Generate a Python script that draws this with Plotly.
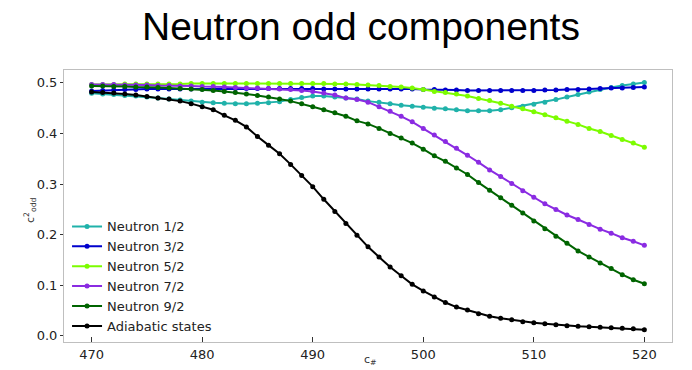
import plotly.graph_objects as go

c_hash = list(range(470, 521))

neutron_1_2 = [0.4795, 0.478, 0.477, 0.475, 0.474, 0.472, 0.470, 0.468, 0.466, 0.464,
               0.462, 0.461, 0.460, 0.459, 0.459, 0.460, 0.461, 0.463, 0.467, 0.471,
               0.474, 0.474, 0.472, 0.470, 0.468, 0.464, 0.462, 0.459, 0.456, 0.454,
               0.452, 0.450, 0.449, 0.447, 0.445, 0.445, 0.445, 0.447, 0.451, 0.454,
               0.458, 0.462, 0.467, 0.472, 0.477, 0.482, 0.487, 0.491, 0.495, 0.498,
               0.501]

neutron_3_2 = [0.484, 0.485, 0.486, 0.487, 0.487, 0.488, 0.488, 0.488, 0.488, 0.488,
               0.488, 0.489, 0.489, 0.489, 0.489, 0.489, 0.489, 0.489, 0.489, 0.489,
               0.489, 0.488, 0.488, 0.488, 0.488, 0.488, 0.488, 0.488, 0.488, 0.488,
               0.487, 0.487, 0.486, 0.486, 0.485, 0.485, 0.485, 0.485, 0.485, 0.485,
               0.485, 0.486, 0.486, 0.487, 0.487, 0.488, 0.489, 0.490, 0.490, 0.491,
               0.492]

neutron_5_2 = [0.497, 0.497, 0.497, 0.498, 0.498, 0.498, 0.498, 0.498, 0.498, 0.499,
               0.499, 0.499, 0.499, 0.499, 0.499, 0.499, 0.499, 0.499, 0.499, 0.499,
               0.499, 0.499, 0.498, 0.498, 0.497, 0.496, 0.495, 0.493, 0.492, 0.490,
               0.487, 0.483, 0.481, 0.478, 0.474, 0.469, 0.465, 0.460, 0.454, 0.449,
               0.443, 0.437, 0.431, 0.424, 0.418, 0.410, 0.404, 0.396, 0.388, 0.381,
               0.373]

neutron_7_2 = [0.497, 0.497, 0.497, 0.496, 0.496, 0.496, 0.495, 0.495, 0.494, 0.494,
               0.493, 0.493, 0.492, 0.491, 0.490, 0.490, 0.489, 0.488, 0.487, 0.485,
               0.483, 0.480, 0.476, 0.470, 0.467, 0.462, 0.453, 0.444, 0.434, 0.423,
               0.410, 0.397, 0.384, 0.371, 0.357, 0.343, 0.328, 0.315, 0.301, 0.287,
               0.274, 0.261, 0.250, 0.239, 0.230, 0.220, 0.211, 0.203, 0.194, 0.187,
               0.179]

neutron_9_2 = [0.494, 0.494, 0.493, 0.493, 0.492, 0.492, 0.491, 0.490, 0.489, 0.488,
               0.487, 0.485, 0.483, 0.481, 0.478, 0.475, 0.472, 0.468, 0.464, 0.459,
               0.453, 0.447, 0.441, 0.434, 0.425, 0.419, 0.410, 0.400, 0.391, 0.381,
               0.369, 0.356, 0.345, 0.332, 0.319, 0.303, 0.288, 0.273, 0.258, 0.243,
               0.227, 0.212, 0.197, 0.183, 0.168, 0.156, 0.144, 0.133, 0.121, 0.111,
               0.103]

adiabatic = [0.482, 0.481, 0.480, 0.478, 0.476, 0.473, 0.470, 0.468, 0.464, 0.459,
             0.453, 0.447, 0.436, 0.426, 0.413, 0.394, 0.377, 0.360, 0.339, 0.317,
             0.295, 0.270, 0.246, 0.222, 0.199, 0.176, 0.156, 0.136, 0.119, 0.102,
             0.089, 0.077, 0.066, 0.057, 0.051, 0.044, 0.039, 0.035, 0.032, 0.028,
             0.026, 0.024, 0.022, 0.020, 0.019, 0.018, 0.017, 0.016, 0.015, 0.014,
             0.012]

series = [
    ("Neutron 1/2", neutron_1_2, "#20b2aa"),
    ("Neutron 3/2", neutron_3_2, "#0000cd"),
    ("Neutron 5/2", neutron_5_2, "#7cfc00"),
    ("Neutron 7/2", neutron_7_2, "#8a2be2"),
    ("Neutron 9/2", neutron_9_2, "#006400"),
    ("Adiabatic states", adiabatic, "#000000"),
]

fig = go.Figure()
for name, vals, color in series:
    fig.add_trace(go.Scatter(
        x=c_hash, y=vals, name=name, mode="lines+markers",
        line=dict(color=color, width=2),
        marker=dict(color=color, size=5),
    ))

tick_font = dict(family="DejaVu Sans", size=13, color="#222222")

fig.update_layout(
    width=692, height=370,
    margin=dict(l=64, r=20, t=70, b=28),
    paper_bgcolor="white", plot_bgcolor="white",
    showlegend=True,
    legend=dict(
        x=0.005, y=0.48, xanchor="left", yanchor="top",
        bgcolor="rgba(0,0,0,0)",
        font=dict(family="DejaVu Sans", size=13, color="#222222"),
        tracegroupgap=0, itemwidth=30,
    ),
    annotations=[
        dict(text="Neutron odd components", xref="paper", yref="paper",
             x=(361 - 64) / 608, y=1 + (70 - 27) / 272, xanchor="center", yanchor="middle",
             showarrow=False,
             font=dict(family="Liberation Sans", size=39, color="#000000")),
        dict(text="c<sub>#</sub>", xref="paper", yref="paper",
             x=(370 - 64) / 608, y=-(360 - 342) / 272, xanchor="center", yanchor="middle",
             showarrow=False,
             font=dict(family="DejaVu Sans", size=11, color="#333333")),
        dict(text="c<sup>2</sup><sub>odd</sub>", xref="paper", yref="paper",
             x=-(64 - 30) / 608, y=(342 - 210) / 272, xanchor="center", yanchor="middle",
             textangle=-90, showarrow=False,
             font=dict(family="DejaVu Sans", size=11, color="#333333")),
    ],
)

fig.update_xaxes(
    range=[467.5, 522.5],
    tickvals=[470, 480, 490, 500, 510, 520],
    ticks="inside", ticklen=5, tickcolor="#333333",
    showline=True, linecolor="#bfbfbf", linewidth=1, mirror=True,
    showgrid=False, zeroline=False, automargin=False,
    tickfont=tick_font,
)
fig.update_yaxes(
    range=[-0.012, 0.5255],
    tickvals=[0.0, 0.1, 0.2, 0.3, 0.4, 0.5],
    ticktext=["0.0", "0.1", "0.2", "0.3", "0.4", "0.5"],
    ticks="outside", ticklen=3, tickcolor="#333333",
    showline=True, linecolor="#bfbfbf", linewidth=1, mirror=True,
    showgrid=False, zeroline=False, automargin=False,
    tickfont=tick_font,
)

fig.write_html("out.html")
